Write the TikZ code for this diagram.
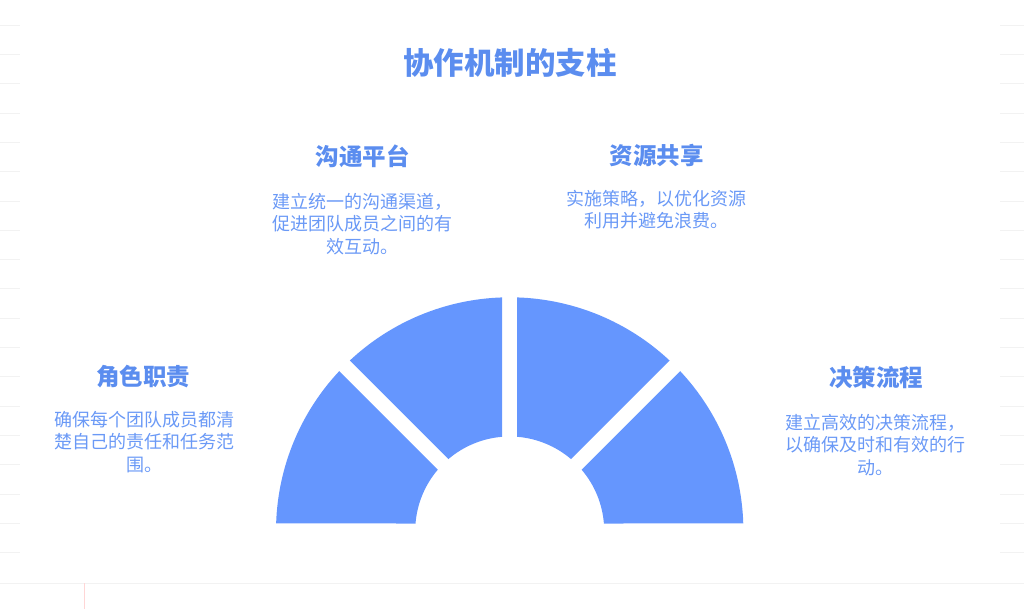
\documentclass[tikz,border=0pt]{standalone}
\usepackage{fontspec}
\usepackage{tikz}
\usetikzlibrary{positioning}
\newfontfamily\cjk{Noto Sans CJK SC}
\definecolor{pillar}{HTML}{6596FE}
\definecolor{headblue}{HTML}{5B8DEF}
\definecolor{txtblue}{HTML}{6A99F6}
\definecolor{edgeline}{HTML}{F2F2F2}
\definecolor{pinkline}{HTML}{FFD6D6}

\begin{document}
\begin{tikzpicture}[x=1pt, y=1pt,
  every node/.style={font=\cjk},
  head/.style={font=\cjk\bfseries\fontsize{23.5}{28}\selectfont, text=headblue, inner sep=0pt},
  desc/.style={font=\cjk\fontsize{18}{22.5}\selectfont, text=txtblue, align=center, inner sep=0pt, anchor=north},
  sector/.style={fill=pillar}]
\useasboundingbox (0,0) rectangle (1024,609);

% faint page rules
\foreach \k in {0,...,18} {
  \draw[edgeline] (0,584-29.3*\k) -- (20,584-29.3*\k);
  \draw[edgeline] (1000,584-29.3*\k) -- (1024,584-29.3*\k);
}
\draw[edgeline] (0,26) -- (1024,26);
\draw[pinkline] (84,0) -- (84,26);

\node[font=\cjk\bfseries\fontsize{30.5}{36}\selectfont, text=headblue] (title) at (510,546) {协作机制的支柱};

% Pillars
\begin{scope}[shift={(509.7,78)}]
\foreach \a in {0,45,90,135} {
  \pgfmathsetmacro{\oa}{\a+1.84}
  \pgfmathsetmacro{\ob}{\a+45-1.84}
  \pgfmathsetmacro{\ia}{\a+4.55}
  \pgfmathsetmacro{\ib}{\a+45-4.55}
  \fill[sector] (\oa:233.7) arc[start angle=\oa, end angle=\ob, radius=233.7]
    -- (\ib:94.5) arc[start angle=\ib, end angle=\ia, radius=94.5] -- cycle;
}
\end{scope}

% Labels
\node[head] (comm) at (362.5,453) {沟通平台};
\node[desc] (commtxt) at (362.5,416) {建立统一的沟通渠道，\\促进团队成员之间的有\\效互动。};

\node[head] (res) at (656.7,453) {资源共享};
\node[desc] (restxt) at (656.7,419) {实施策略，以优化资源\\利用并避免浪费。};

\node[head] (role) at (143,232) {角色职责};
\node[desc] (roletxt) at (144,198) {确保每个团队成员都清\\楚自己的责任和任务范\\围。};

\node[head] (dec) at (876,232) {决策流程};
\node[desc] (dectxt) at (875,195) {建立高效的决策流程，\\以确保及时和有效的行\\动。};
\end{tikzpicture}
\end{document}
